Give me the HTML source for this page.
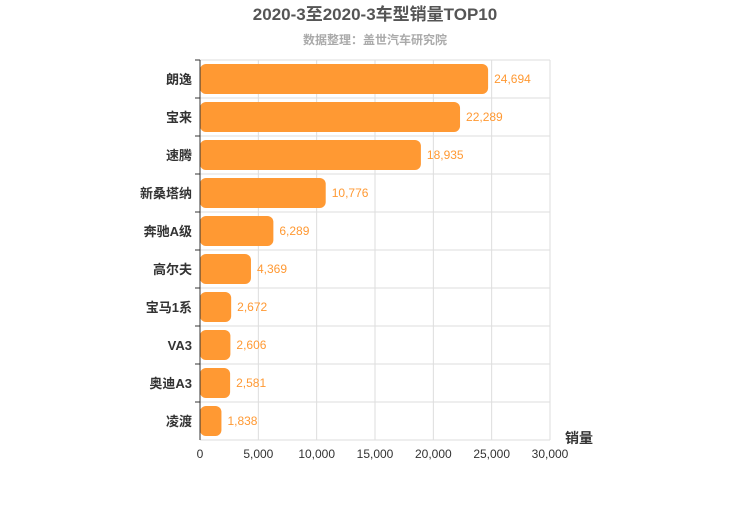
<!DOCTYPE html>
<html><head><meta charset="utf-8"><style>
body{margin:0;background:#fff;}
text{font-family:"Liberation Sans","Noto Sans CJK SC",sans-serif;}
</style></head><body>
<svg id="c" width="750" height="500" xmlns="http://www.w3.org/2000/svg">
<text x="375" y="20" text-anchor="middle" font-size="17" font-weight="bold" fill="#555">2020-3至2020-3车型销量TOP10</text>
<text x="375" y="44" text-anchor="middle" font-size="12" font-weight="bold" fill="#aaa">数据整理：盖世汽车研究院</text>
<g id="grid"></g><g id="bars"></g><g id="axes"></g>
<text x="565" y="443" font-size="14" font-weight="bold" fill="#333">销量</text>
</svg>
<script>
const categories=["朗逸","宝来","速腾","新桑塔纳","奔驰A级","高尔夫","宝马1系","VA3","奥迪A3","凌渡"];
const values=[24694,22289,18935,10776,6289,4369,2672,2606,2581,1838];
const ticks=[0,5000,10000,15000,20000,25000,30000];
const X0=200,X1=550,Y0=60,Y1=440,xmax=30000;
const x=v=>X0+(X1-X0)*v/xmax;
const band=(Y1-Y0)/categories.length;
const y=i=>Y0+band*i;
const ns="http://www.w3.org/2000/svg";
function mk(t,a,p,txt){const e=document.createElementNS(ns,t);for(const k in a)e.setAttribute(k,a[k]);if(txt!==undefined)e.textContent=txt;p.appendChild(e);return e;}
const g=document.getElementById('grid'),b=document.getElementById('bars'),ax=document.getElementById('axes');
ticks.forEach(t=>{
 const l=mk('line',{x1:x(t),x2:x(t),y1:Y0,y2:Y1,stroke:'#ddd'},g);
 
 
 const tl=mk('text',{x:x(t),y:Y1+18,'text-anchor':'middle','font-size':12,fill:'#333'},ax,t.toLocaleString('en-US'));
 
 
});
for(let i=0;i<=categories.length;i++){
 const l=mk('line',{x1:X0,x2:X1,y1:y(i),y2:y(i),stroke:'#ddd'},g);
 
 
}
const axl=mk('line',{x1:X0,x2:X0,y1:Y0,y2:Y1,stroke:'#333'},ax);


categories.forEach((c,i)=>{
 const cy=y(i)+band/2;
 const r=mk('rect',{x:X0,y:cy-15,width:x(values[i])-X0,height:30,rx:6,fill:'#ff9933'},b);
 
 
 const v=mk('text',{x:x(values[i])+6,y:cy+4,'font-size':12,fill:'#ff9933'},b,values[i].toLocaleString('en-US'));
 
 
 const t=mk('text',{x:X0-8,y:cy+5,'text-anchor':'end','font-size':13,'font-weight':'bold',fill:'#333'},ax,c);
 
 
 const tk=mk('line',{x1:X0-5,x2:X0,y1:y(i),y2:y(i),stroke:'#333'},ax);
 
 
});
</script>
</body></html>
